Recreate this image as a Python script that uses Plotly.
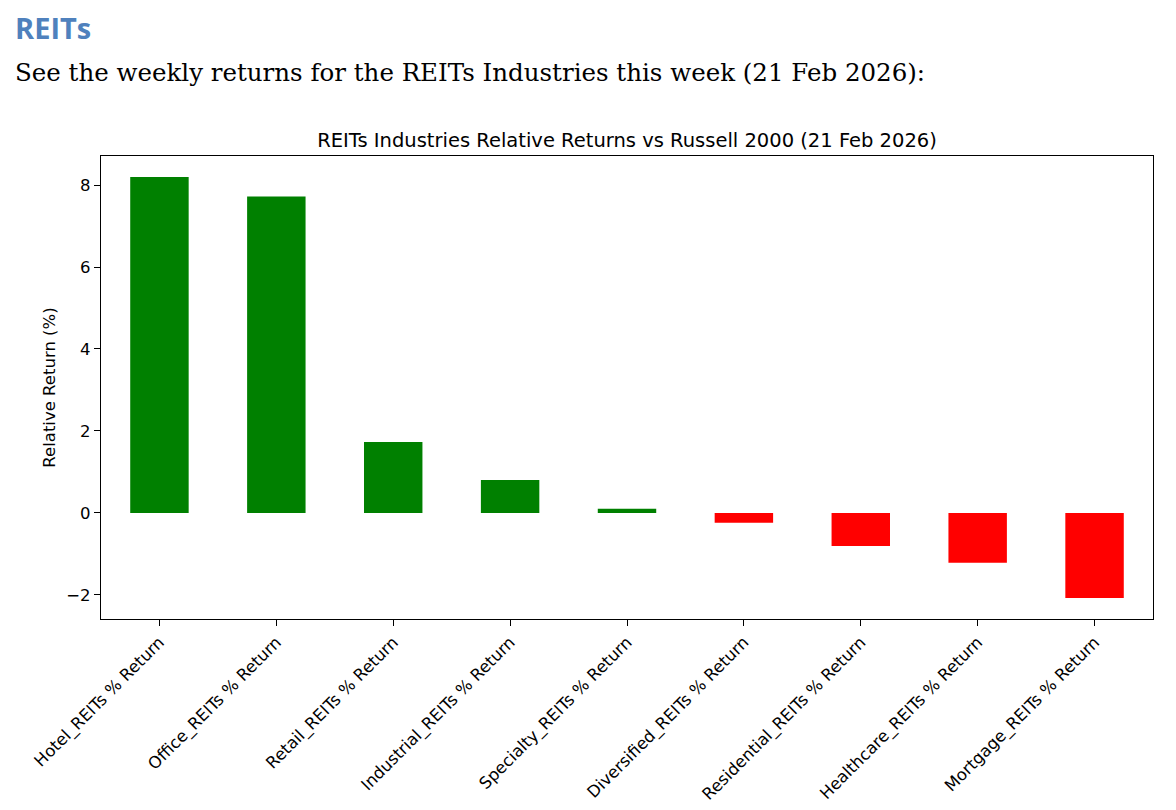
import plotly.graph_objects as go

categories = ["Hotel_REITs % Return", "Office_REITs % Return", "Retail_REITs % Return",
              "Industrial_REITs % Return", "Specialty_REITs % Return", "Diversified_REITs % Return",
              "Residential_REITs % Return", "Healthcare_REITs % Return", "Mortgage_REITs % Return"]
values = [8.20, 7.72, 1.73, 0.80, 0.10, -0.24, -0.81, -1.22, -2.08]
colors = ["green" if v >= 0 else "red" for v in values]
y_ticks = [-2, 0, 2, 4, 6, 8]
y_tick_labels = ["\u22122", "0", "2", "4", "6", "8"]

fig = go.Figure(go.Bar(x=list(range(len(categories))), y=values, marker_color=colors,
                       marker_line_width=0, width=0.5))

axis_font = dict(family="DejaVu Sans", size=16.5, color="black")
fig.update_layout(
    width=1168, height=802,
    paper_bgcolor="white", plot_bgcolor="white",
    margin=dict(l=93, r=23, t=148, b=191),
    showlegend=False,
    title=dict(text="REITs Industries Relative Returns vs Russell 2000 (21 Feb 2026)",
               font=dict(family="DejaVu Sans", size=19.5, color="black"),
               x=(627 - 8) / 1168, xanchor="center", y=1 - (140 - 8) / 802, yanchor="middle"),
)
fig.update_xaxes(
    tickmode="array", tickvals=list(range(len(categories))), ticktext=categories,
    tickangle=-45, range=[-0.5, len(categories) - 0.5], automargin=False,
    showline=True, linecolor="black", linewidth=1.2, mirror=True,
    ticks="outside", ticklen=6, tickcolor="black", showgrid=False, zeroline=False,
    tickfont=axis_font,
)
fig.update_yaxes(
    tickmode="array", tickvals=y_ticks, ticktext=y_tick_labels,
    range=[-2.59, 8.71], automargin=False,
    showline=True, linecolor="black", linewidth=1.2, mirror=True,
    ticks="outside", ticklen=6, tickcolor="black", showgrid=False, zeroline=False,
    tickfont=axis_font,
    title=dict(text="Relative Return (%)", font=axis_font, standoff=6),
)

fig.add_annotation(text="<b>REITs</b>", xref="paper", yref="paper", x=(13 - 101) / 1052,
                   y=1 + (156 - 28) / 463,
                   xanchor="left", yanchor="middle", showarrow=False,
                   font=dict(family="Open Sans", size=29, color="#4f81bd"))
fig.add_annotation(text="See the weekly returns for the REITs Industries this week (21 Feb 2026):",
                   xref="paper", yref="paper", x=(13 - 101) / 1052, y=1 + (156 - 72) / 463,
                   xanchor="left", yanchor="middle", showarrow=False,
                   font=dict(family="DejaVu Serif", size=24.5, color="black"))

fig.write_html("out.html")
